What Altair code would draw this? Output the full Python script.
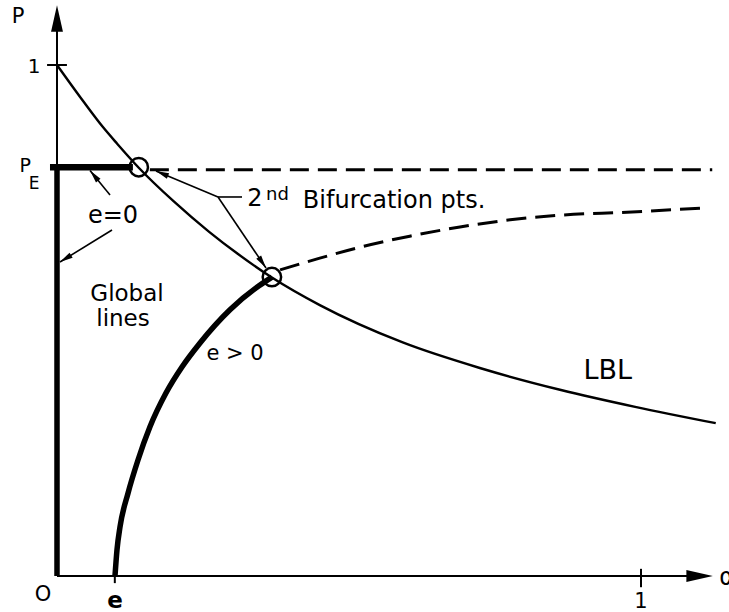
import math
import altair as alt
import pandas as pd

# Drawing frame: alpha on x, P on y (data units), no library axes
W, H = 729, 612
X_DOMAIN = [-0.0976, 1.1507]
Y_DOMAIN = [-0.0705, 1.1272]
PX_X = W / (X_DOMAIN[1] - X_DOMAIN[0])
PX_Y = H / (Y_DOMAIN[1] - Y_DOMAIN[0])
FONT = "DejaVu Sans"

# Key levels
P_E = 0.80
E_VAL = 0.099

# Limit buckling line (LBL)
lbl_alpha = [0.0, 0.045, 0.079, 0.103, 0.140, 0.200, 0.260, 0.310, 0.368,
             0.450, 0.592, 0.724, 0.863, 0.990, 1.128]
lbl_p = [1.0, 0.929, 0.878, 0.846, 0.799, 0.733, 0.674, 0.630, 0.584,
         0.530, 0.457, 0.407, 0.364, 0.331, 0.299]

# e > 0 global branch (stable part)
eplus_alpha = [0.0993, 0.1027, 0.1079, 0.1216, 0.1387, 0.1592, 0.1866,
               0.2140, 0.2449, 0.2962, 0.3459, 0.3682]
eplus_p = [0.0, 0.051, 0.096, 0.162, 0.227, 0.292, 0.358,
           0.409, 0.456, 0.521, 0.568, 0.585]

# e > 0 branch beyond the second bifurcation (dashed)
post_alpha = [0.382, 0.450, 0.514, 0.604, 0.690, 0.776, 0.861, 0.976, 1.106]
post_p = [0.599, 0.622, 0.642, 0.665, 0.683, 0.697, 0.706, 0.712, 0.720]

# e = 0 branch beyond the first bifurcation (dashed)
flat_alpha = [0.159, 1.122]
flat_p = 0.795

# Second bifurcation points
bif_alpha = [0.140, 0.368]
bif_p = [0.800, 0.585]

# Axis extents
Y_TOP = 1.117
X_END = 1.123

X = dict(scale=alt.Scale(domain=X_DOMAIN, nice=False, zero=False), axis=None)
Y = dict(scale=alt.Scale(domain=Y_DOMAIN, nice=False, zero=False), axis=None)


def seg(x, y, x2, y2, w):
    return dict(x=x, y=y, x2=x2, y2=y2, w=w)


def head(tail, tip):
    dxp = (tip[0] - tail[0]) * PX_X
    dyp = -(tip[1] - tail[1]) * PX_Y
    ang = math.degrees(math.atan2(dxp, -dyp)) % 360
    return dict(x=tip[0], y=tip[1], ang=ang)


# Annotation leaders (tail -> tip)
a_e0_top = ((0.0908, 0.7456), (0.0565, 0.7935))
a_e0_side = ((0.0942, 0.6770), (0.0051, 0.6145))
bif_knee = (0.2757, 0.7417)
bif_text_end = (0.3168, 0.7417)
a_bif1 = (bif_knee, (0.1695, 0.7926))
a_bif2 = (bif_knee, (0.3579, 0.6027))

segments = pd.DataFrame([
    seg(0, 0, 0, Y_TOP - 0.02, 2.0),
    seg(0, 0, X_END - 0.02, 0, 2.2),
    seg(-0.017, 1.0, 0.017, 1.0, 2.0),
    seg(1.0, 0.014, 1.0, -0.022, 2.0),
    seg(E_VAL, 0.006, E_VAL, -0.014, 2.0),
    seg(0, 0, 0, P_E, 5.5),
    seg(-0.012, P_E, 0.130, P_E, 6.5),
    seg(*a_e0_top[0], *a_e0_top[1], 1.6),
    seg(*a_e0_side[0], *a_e0_side[1], 1.6),
    seg(*bif_text_end, *bif_knee, 1.6),
    seg(*a_bif1[0], *a_bif1[1], 1.6),
    seg(*a_bif2[0], *a_bif2[1], 1.6),
])

rules = alt.Chart(segments).mark_rule(color="black", strokeCap="butt").encode(
    x=alt.X("x:Q", **X), y=alt.Y("y:Q", **Y), x2="x2:Q", y2="y2:Q",
    strokeWidth=alt.StrokeWidth("w:Q", scale=None),
)

ARROW = "M0,0L0.45,2L-0.45,2Z"
small_heads = pd.DataFrame([head(*a) for a in (a_e0_top, a_e0_side, a_bif1, a_bif2)])
small = alt.Chart(small_heads).mark_point(
    shape=ARROW, filled=True, color="black", size=170, opacity=1
).encode(x=alt.X("x:Q", **X), y=alt.Y("y:Q", **Y), angle=alt.Angle("ang:Q", scale=None))

axis_heads = pd.DataFrame([head((0, 0), (0, Y_TOP)), head((0, 0), (X_END, 0))])
big = alt.Chart(axis_heads).mark_point(
    shape=ARROW, filled=True, color="black", size=700, opacity=1
).encode(x=alt.X("x:Q", **X), y=alt.Y("y:Q", **Y), angle=alt.Angle("ang:Q", scale=None))

lbl = alt.Chart(pd.DataFrame({"a": lbl_alpha, "p": lbl_p})).mark_line(
    color="black", strokeWidth=2.4, interpolate="monotone"
).encode(x=alt.X("a:Q", **X), y=alt.Y("p:Q", **Y), order="a:Q")

eplus = alt.Chart(pd.DataFrame({"a": eplus_alpha, "p": eplus_p})).mark_line(
    color="black", strokeWidth=5.5, interpolate="monotone", strokeCap="butt"
).encode(x=alt.X("a:Q", **X), y=alt.Y("p:Q", **Y), order="a:Q")

post = alt.Chart(pd.DataFrame({"a": post_alpha, "p": post_p})).mark_line(
    color="black", strokeWidth=3, interpolate="monotone", strokeDash=[20, 9]
).encode(x=alt.X("a:Q", **X), y=alt.Y("p:Q", **Y), order="a:Q")

flat = alt.Chart(pd.DataFrame({"a": flat_alpha, "p": [flat_p, flat_p]})).mark_line(
    color="black", strokeWidth=3, strokeDash=[19, 9]
).encode(x=alt.X("a:Q", **X), y=alt.Y("p:Q", **Y))

circles = alt.Chart(pd.DataFrame({"a": bif_alpha, "p": bif_p})).mark_point(
    shape="circle", size=340, filled=False, color="black", strokeWidth=2.5, opacity=1
).encode(x=alt.X("a:Q", **X), y=alt.Y("p:Q", **Y))

# Text labels
centre_text = pd.DataFrame([
    dict(t="P", x=-0.0668, y=1.094, s=21),
    dict(t="1", x=-0.0394, y=0.996, s=20),
    dict(t="P", x=-0.0545, y=0.802, s=19),
    dict(t="E", x=-0.0390, y=0.768, s=17),
    dict(t="e=0", x=0.0959, y=0.7045, s=24),
    dict(t="Global", x=0.1199, y=0.552, s=23),
    dict(t="lines", x=0.1130, y=0.503, s=23),
    dict(t="2", x=0.3390, y=0.738, s=24),
    dict(t="e > 0", x=0.3050, y=0.434, s=21),
    dict(t="LBL", x=0.9430, y=0.401, s=27),
    dict(t="O", x=-0.0240, y=-0.037, s=21),
    dict(t="1", x=1.0000, y=-0.050, s=21),
])
left_text = pd.DataFrame([
    dict(t="nd", x=0.3580, y=0.745, s=18),
    dict(t="Bifurcation pts.", x=0.4210, y=0.734, s=24),
    dict(t="α", x=1.1340, y=-0.004, s=24),
])
bold_text = pd.DataFrame([dict(t="e", x=0.0993, y=-0.049, s=23)])


def texts(df, align, weight="normal"):
    return alt.Chart(df).mark_text(
        font=FONT, align=align, baseline="middle", color="black", fontWeight=weight
    ).encode(
        x=alt.X("x:Q", **X), y=alt.Y("y:Q", **Y), text="t:N",
        size=alt.Size("s:Q", scale=None),
    )


chart = alt.layer(
    flat, post, lbl, eplus, rules, small, big, circles,
    texts(centre_text, "center"), texts(left_text, "left"),
    texts(bold_text, "center", "bold"),
).properties(
    width=W, height=H, padding=0, autosize=alt.AutoSizeParams(type="none"),
    background="white",
).configure_view(stroke=None)

chart.save("out.html", embed_options={"renderer": "svg", "actions": False})
